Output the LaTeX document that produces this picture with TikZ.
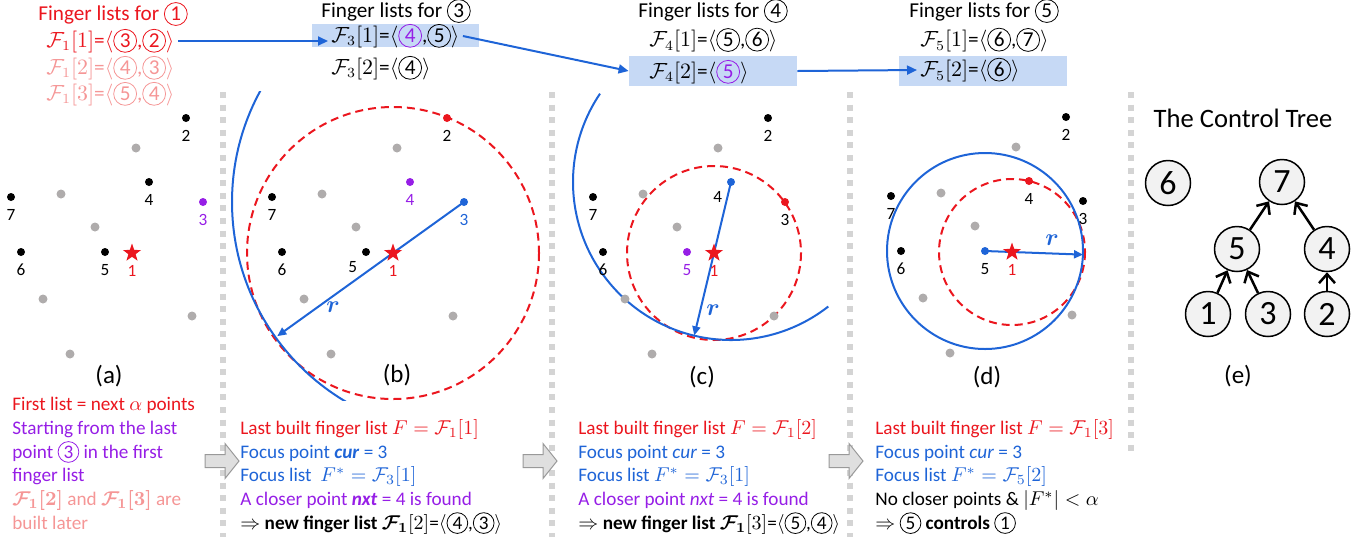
\documentclass[tikz,border=0pt]{standalone}
\usepackage{amsmath,amssymb}
\usepackage{fontspec}
\setmainfont{Carlito}
\usetikzlibrary{arrows.meta,shapes.geometric,calc}
\definecolor{ptred}{RGB}{235,22,30}
\definecolor{ptblue}{RGB}{30,100,215}
\definecolor{ptpurple}{RGB}{150,30,230}
\definecolor{ptpink}{RGB}{245,150,150}
\definecolor{ptgray}{RGB}{175,172,172}
\definecolor{sepgray}{RGB}{212,212,212}
\definecolor{hlblue}{RGB}{198,217,245}
\definecolor{nodegray}{RGB}{242,242,242}
\newcommand{\cn}[1]{\tikz[baseline=(cn.base)]\node[circle, draw, line width=0.4pt, inner sep=0pt, minimum size=1.08em] (cn) {#1};}
\newcommand{\graydots}{%
  \fill[ptgray] (4,-105) circle (4.5);
  \fill[ptgray] (-71,-59) circle (4.5);
  \fill[ptgray] (-37,-26) circle (4.5);
  \fill[ptgray] (-89,46) circle (4.5);
  \fill[ptgray] (60,63) circle (4.5);
  \fill[ptgray] (-62,101) circle (4.5);}
\newcommand{\grayarrow}[2]{%
  \draw[blockarrow] (#1,#2) ++(0,-6.5) -- ++(20,0) -- ++(0,-11) -- ++(14,17.5)
    -- ++(-14,17.5) -- ++(0,-11) -- ++(-20,0) -- cycle;}
\pgfdeclarelayer{bg}
\pgfsetlayers{bg,main}

\begin{document}
\begin{tikzpicture}[x=0.5pt,y=-0.5pt,
  listtxt/.style={font=\fontsize{10.6}{12}\selectfont, inner sep=1.5pt},
  hlbox/.style={fill=hlblue, inner sep=0pt},
  flow/.style={ptblue, line width=1pt, -{Triangle[length=5pt,width=4.5pt]}},
  divider/.style={sepgray, line width=3pt, dash pattern=on 3pt off 3.3pt},
  dot/.style={circle, fill=#1, inner sep=0pt, minimum size=4pt},
  dot/.default=black,
  lab/.style={font=\fontsize{8.6}{8.6}\selectfont, inner sep=0.5pt, text=#1},
  lab/.default=black,
  hub/.style={star, star points=5, star point ratio=2.5, fill=ptred, inner sep=0pt, minimum size=9.5pt},
  reach/.style={ptred, line width=1pt, dash pattern=on 4pt off 2.5pt},
  focus/.style={ptblue, line width=1pt},
  radius arrow/.style={ptblue, line width=1pt, -{Triangle[length=4.5pt,width=4pt]}},
  rlab/.style={text=ptblue, font=\fontsize{12}{12}\selectfont},
  panel/.style={font=\fontsize{12.5}{14}\selectfont},
  note/.style={font=\fontsize{9.6}{11.85}\selectfont, align=left, anchor=north west, inner sep=0pt},
  blockarrow/.style={fill=gray!25, draw=gray!80, line width=0.5pt},
  treenode/.style={circle, draw, fill=nodegray, line width=0.75pt, minimum size=22.5pt, inner sep=0pt, font=\fontsize{17}{17}\selectfont},
  treearrow/.style={line width=1.25pt, -{Straight Barb[length=4.5pt,width=8pt]}},
  label distance=3.2pt]
\useasboundingbox (0,0) rectangle (1369,537);

% finger lists on top
\node[hlbox, minimum width=83.5pt, minimum height=11.5pt] (f31box) at (395.5,35.5) {};
\node[hlbox, minimum width=84pt, minimum height=15pt] (f42box) at (713,71) {};
\node[hlbox, minimum width=84pt, minimum height=15pt] (f52box) at (983,71) {};

\node[listtxt, text=ptred] (t1) at (113,14) {Finger lists for \cn{1}};
\node[listtxt, text=ptred, anchor=west] (f11) at (43,41) {$\mathcal{F}_1[1]$=$\langle$\cn{3},\cn{2}$\rangle$};
\node[listtxt, text=ptpink, anchor=west] (f12) at (43,68) {$\mathcal{F}_1[2]$=$\langle$\cn{4},\cn{3}$\rangle$};
\node[listtxt, text=ptpink, anchor=west] (f13) at (43,94) {$\mathcal{F}_1[3]$=$\langle$\cn{5},\cn{4}$\rangle$};

\node[listtxt] (t3) at (396,11) {Finger lists for \cn{3}};
\node[listtxt, anchor=west] (f31) at (328,36) {$\mathcal{F}_3[1]$=$\langle$\textcolor{ptpurple}{\cn{4}},\cn{5}$\rangle$};
\node[listtxt, anchor=west] (f32) at (328,68) {$\mathcal{F}_3[2]$=$\langle$\cn{4}$\rangle$};

\node[listtxt] (t4) at (713,11) {Finger lists for \cn{4}};
\node[listtxt, anchor=west] (f41) at (646,40) {$\mathcal{F}_4[1]$=$\langle$\cn{5},\cn{6}$\rangle$};
\node[listtxt, anchor=west] (f42) at (646,72) {$\mathcal{F}_4[2]$=$\langle$\textcolor{ptpurple}{\cn{5}}$\rangle$};

\node[listtxt] (t5) at (984,11) {Finger lists for \cn{5}};
\node[listtxt, anchor=west] (f51) at (917,40) {$\mathcal{F}_5[1]$=$\langle$\cn{6},\cn{7}$\rangle$};
\node[listtxt, anchor=west] (f52) at (917,70) {$\mathcal{F}_5[2]$=$\langle$\cn{6}$\rangle$};

\draw[flow] (f11.east) -- (f11.east -| f31.west);
\draw[flow] (f31.east) -- (f42box.west);
\draw[flow] (f42box.east) -- (f52.west);

% dividers
\draw[divider] (223,92) -- (223,537);
\draw[divider] (552,92) -- (552,537);
\draw[divider] (850,92) -- (850,537);
\draw[divider] (1131,92) -- (1131,455);

% (a)
\begin{scope}[shift={(132,253)}]
\graydots
\node[hub, label={[lab=ptred]below:1}] (a1) at (0,0) {};
\node[dot, label={[lab]below:2}] (a2) at (54,-135) {};
\node[dot=ptpurple, label={[lab=ptpurple]below:3}] (a3) at (71,-51) {};
\node[dot, label={[lab]below:4}] (a4) at (17,-71) {};
\node[dot, label={[lab]below:5}] (a5) at (-27,-1) {};
\node[dot, label={[lab]below:6}] (a6) at (-111,-1) {};
\node[dot, label={[lab]below:7}] (a7) at (-121,-56) {};
\end{scope}

% (b)
\begin{scope}[shift={(393,253)}]
\graydots
\node[hub, label={[lab=ptred]below:1}] (b1) at (0,0) {};
\node[dot=ptred, label={[lab]below:2}] (b2) at (54,-135) {};
\node[dot=ptblue, label={[lab=ptblue]below:3}] (b3) at (71,-51) {};
\node[dot=ptpurple, label={[lab=ptpurple]below:4}] (b4) at (17,-71) {};
\node[dot, label={[lab]below left:5}] (b5) at (-27,-1) {};
\node[dot, label={[lab]below:6}] (b6) at (-111,-1) {};
\node[dot, label={[lab]below:7}] (b7) at (-121,-56) {};
\end{scope}

% (c)
\begin{scope}[shift={(714,253)}]
\graydots
\node[hub, label={[lab=ptred]below:1}] (c1) at (0,0) {};
\node[dot, label={[lab]below:2}] (c2) at (54,-135) {};
\node[dot=ptred, label={[lab]below:3}] (c3) at (71,-51) {};
\node[dot=ptblue, label={[lab]below left:4}] (c4) at (17,-71) {};
\node[dot=ptpurple, label={[lab=ptpurple]below:5}] (c5) at (-27,-1) {};
\node[dot, label={[lab]below:6}] (c6) at (-111,-1) {};
\node[dot, label={[lab]below:7}] (c7) at (-121,-56) {};
\end{scope}

% (d)
\begin{scope}[shift={(1012,252)}]
\graydots
\node[hub, label={[lab=ptred]below:1}] (d1) at (0,0) {};
\node[dot, label={[lab]below:2}] (d2) at (54,-135) {};
\node[dot, label={[lab]below:3}] (d3) at (71,-51) {};
\node[dot=ptred, label={[lab]below:4}] (d4) at (17,-71) {};
\node[dot=ptblue, label={[lab]below:5}] (d5) at (-27,-1) {};
\node[dot, label={[lab]below:6}] (d6) at (-111,-1) {};
\node[dot, label={[lab]below:7}] (d7) at (-121,-56) {};
\end{scope}

% circles and radii behind the points
\begin{pgfonlayer}{bg}
\draw[reach] (b1.center) circle[radius=146];
\begin{scope}
\clip (226,91) rectangle (548,400);
\draw[focus] (b3.center) circle[radius=232];
\end{scope}
\coordinate (btip) at ($(b3)!2.63!(b1)$);
\draw[radius arrow] (b3.center) -- (btip);

\draw[reach] (c1.center) circle[radius=87];
\draw[focus] (c4.center) ++(52:158) arc[start angle=52, end angle=214, radius=158];
\coordinate (ctip) at ($(c4)!2.16!(c1)$);
\draw[radius arrow] (c4.center) -- (ctip);

\draw[reach] (d1.center) circle[radius=73];
\draw[focus] (d5.center) circle[radius=98];
\coordinate (dtip) at ($(d5)!3.63!(d1)$);
\draw[radius arrow] (d5.center) -- (dtip);
\end{pgfonlayer}

\node[rlab] (br) at (333,307) {$\boldsymbol{r}$};
\node[rlab] (cr) at (713,310) {$\boldsymbol{r}$};
\node[rlab] (dr) at (1052,240) {$\boldsymbol{r}$};

\node[panel] (pa) at (109,376) {(a)};
\node[panel] (pb) at (397,375) {(b)};
\node[panel] (pc) at (702,377) {(c)};
\node[panel] (pd) at (987,377) {(d)};
\node[panel] (pe) at (1238,376) {(e)};

% (e) the control tree
\node[font=\fontsize{13.3}{16}\selectfont] (etitle) at (1243,118) {The Control Tree};
\node[treenode] (e6) at (1168,183) {6};
\node[treenode] (e7) at (1282,182) {7};
\node[treenode] (e5) at (1237,249) {5};
\node[treenode] (e4) at (1327,249) {4};
\node[treenode] (e1) at (1208,314) {1};
\node[treenode] (e3) at (1268,314) {3};
\node[treenode] (e2) at (1327,314) {2};
\draw[treearrow] (e1) -- (e5);
\draw[treearrow] (e3) -- (e5);
\draw[treearrow] (e2) -- (e4);
\draw[treearrow] (e5) -- (e7);
\draw[treearrow] (e4) -- (e7);

% notes under the panels
\node[note] (na) at (12,397) {\textcolor{ptred}{First list = next $\alpha$ points}\\
  \textcolor{ptpurple}{Starting from the last}\\
  \textcolor{ptpurple}{point \cn{3} in the first}\\
  \textcolor{ptpurple}{finger list}\\
  \textcolor{ptpink}{$\boldsymbol{\mathcal{F}_1[2]}$ and $\boldsymbol{\mathcal{F}_1[3]}$ are}\\
  \textcolor{ptpink}{built later}};
\node[note] (nb) at (240,419) {\textcolor{ptred}{Last built finger list $F=\mathcal{F}_1[1]$}\\
  \textcolor{ptblue}{Focus point \textbf{\textit{cur}} = 3}\\
  \textcolor{ptblue}{Focus list\ \ $F^*=\mathcal{F}_3[1]$}\\
  \textcolor{ptpurple}{A closer point \textbf{\textit{nxt}} = 4 is found}\\
  $\Rightarrow$ \textbf{new finger list} $\boldsymbol{\mathcal{F}_1}[2]$=$\langle$\cn{4},\cn{3}$\rangle$};
\node[note] (nc) at (578,419) {\textcolor{ptred}{Last built finger list $F=\mathcal{F}_1[2]$}\\
  \textcolor{ptblue}{Focus point \textit{cur} = 3}\\
  \textcolor{ptblue}{Focus list $F^*=\mathcal{F}_3[1]$}\\
  \textcolor{ptpurple}{A closer point \textit{nxt} = 4 is found}\\
  $\Rightarrow$ \textbf{new finger list} $\boldsymbol{\mathcal{F}_1}[3]$=$\langle$\cn{5},\cn{4}$\rangle$};
\node[note] (nd) at (875,419) {\textcolor{ptred}{Last built finger list $F=\mathcal{F}_1[3]$}\\
  \textcolor{ptblue}{Focus point \textit{cur} = 3}\\
  \textcolor{ptblue}{Focus list $F^*=\mathcal{F}_5[2]$}\\
  No closer points \& $|F^*|<\alpha$\\
  $\Rightarrow$ \cn{5} \textbf{controls} \cn{1}};

\grayarrow{205}{461}
\grayarrow{523}{461}
\grayarrow{829}{461}
\end{tikzpicture}
\end{document}
